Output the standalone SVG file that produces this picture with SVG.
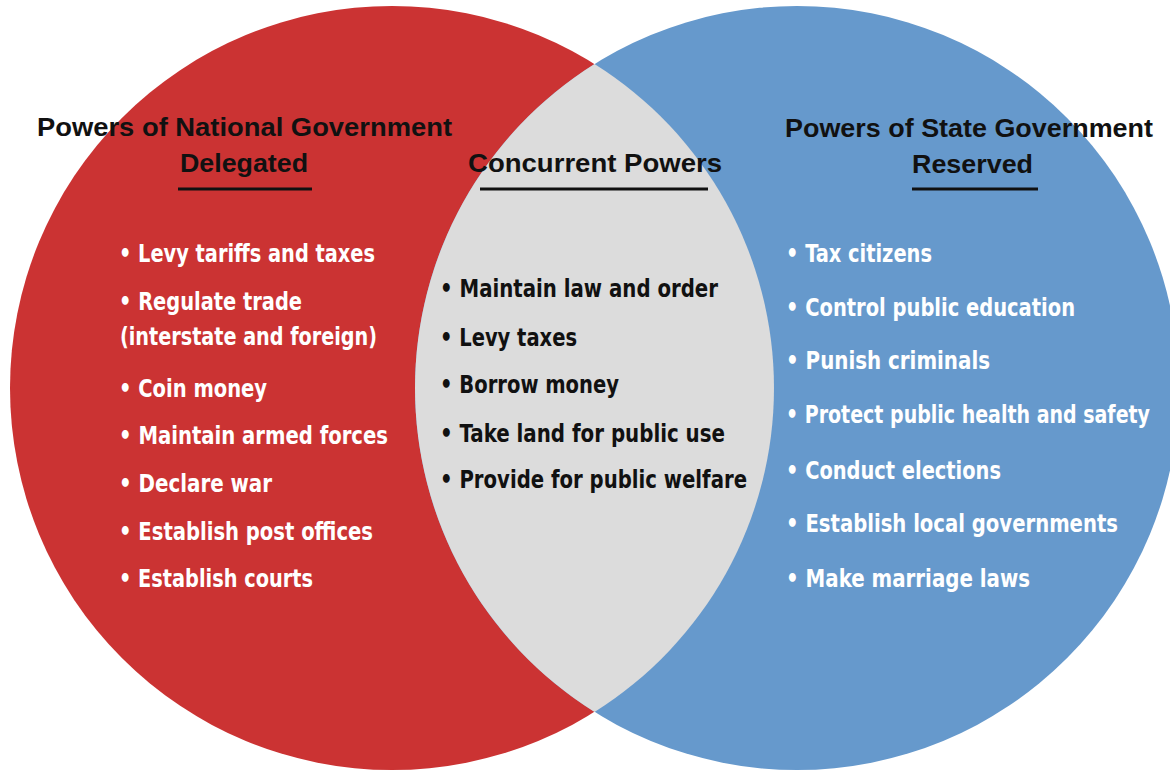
<svg xmlns="http://www.w3.org/2000/svg" width="1170" height="774" viewBox="0 0 1170 774">
<style>
.head{font-family:"Liberation Sans",Arial,sans-serif;font-weight:bold;font-size:26px;fill:#111;}
.item{font-family:"Liberation Sans Narrow","DejaVu Sans Condensed","Liberation Sans",sans-serif;font-weight:bold;font-size:25px;}
.w{fill:#ffffff;}
.k{fill:#111111;}
.ul{stroke:#111;stroke-width:3;}
</style>
<rect width="1170" height="774" fill="#ffffff"/>
<g id="national">
<circle cx="392" cy="388" r="382" fill="#CB3333"/>
</g>
<g id="state">
<circle cx="797" cy="388" r="382" fill="#6699CC"/>
</g>
<g id="concurrent">
<path d="M594.5,64.1 A382,382 0 0 1 594.5,711.9 A382,382 0 0 1 594.5,64.1 Z" fill="#DCDCDC"/>
</g>
<g id="national-text">
<text class="head" x="37" y="136" textLength="415" lengthAdjust="spacingAndGlyphs">Powers of National Government</text>
<text class="head" x="180" y="172" textLength="128" lengthAdjust="spacingAndGlyphs">Delegated</text>
<line class="ul" x1="178" y1="189" x2="312" y2="189"/>
<text class="item w" x="119" y="262" textLength="256" lengthAdjust="spacingAndGlyphs">• Levy tariffs and taxes</text>
<text class="item w" x="119" y="310" textLength="183" lengthAdjust="spacingAndGlyphs">• Regulate trade</text>
<text class="item w" x="120" y="345" textLength="257" lengthAdjust="spacingAndGlyphs">(interstate and foreign)</text>
<text class="item w" x="119" y="397" textLength="148" lengthAdjust="spacingAndGlyphs">• Coin money</text>
<text class="item w" x="119" y="444" textLength="269" lengthAdjust="spacingAndGlyphs">• Maintain armed forces</text>
<text class="item w" x="119" y="492" textLength="153" lengthAdjust="spacingAndGlyphs">• Declare war</text>
<text class="item w" x="119" y="540" textLength="254" lengthAdjust="spacingAndGlyphs">• Establish post offices</text>
<text class="item w" x="119" y="587" textLength="194" lengthAdjust="spacingAndGlyphs">• Establish courts</text>
</g>
<g id="concurrent-text">
<text class="head" x="468" y="172" textLength="254" lengthAdjust="spacingAndGlyphs">Concurrent Powers</text>
<line class="ul" x1="480" y1="189" x2="708" y2="189"/>
<text class="item k" x="440" y="297" textLength="278" lengthAdjust="spacingAndGlyphs">• Maintain law and order</text>
<text class="item k" x="440" y="346" textLength="137" lengthAdjust="spacingAndGlyphs">• Levy taxes</text>
<text class="item k" x="440" y="393" textLength="179" lengthAdjust="spacingAndGlyphs">• Borrow money</text>
<text class="item k" x="440" y="442" textLength="285" lengthAdjust="spacingAndGlyphs">• Take land for public use</text>
<text class="item k" x="440" y="488" textLength="307" lengthAdjust="spacingAndGlyphs">• Provide for public welfare</text>
</g>
<g id="state-text">
<text class="head" x="785" y="137" textLength="368" lengthAdjust="spacingAndGlyphs">Powers of State Government</text>
<text class="head" x="912" y="173" textLength="121" lengthAdjust="spacingAndGlyphs">Reserved</text>
<line class="ul" x1="912" y1="189" x2="1038" y2="189"/>
<text class="item w" x="786" y="262" textLength="146" lengthAdjust="spacingAndGlyphs">• Tax citizens</text>
<text class="item w" x="786" y="316" textLength="289" lengthAdjust="spacingAndGlyphs">• Control public education</text>
<text class="item w" x="786" y="369" textLength="204" lengthAdjust="spacingAndGlyphs">• Punish criminals</text>
<text class="item w" x="786" y="423" textLength="364" lengthAdjust="spacingAndGlyphs">• Protect public health and safety</text>
<text class="item w" x="786" y="479" textLength="215" lengthAdjust="spacingAndGlyphs">• Conduct elections</text>
<text class="item w" x="786" y="532" textLength="332" lengthAdjust="spacingAndGlyphs">• Establish local governments</text>
<text class="item w" x="786" y="587" textLength="244" lengthAdjust="spacingAndGlyphs">• Make marriage laws</text>
</g>
</svg>
